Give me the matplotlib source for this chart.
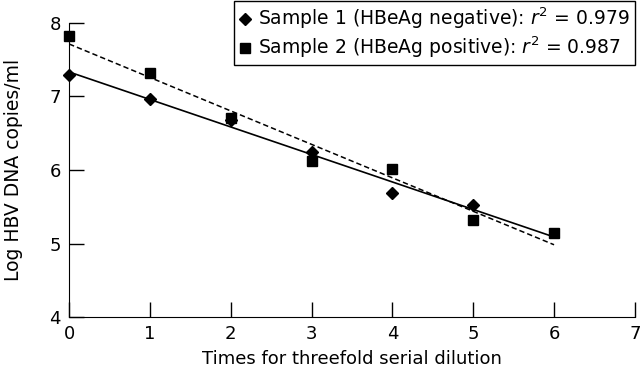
import numpy as np
import matplotlib
matplotlib.use("Agg")
import matplotlib.pyplot as plt

# values
dilution_1 = np.array([0, 1, 2, 3, 4, 5])
log_dna_1 = np.array([7.29, 6.96, 6.68, 6.25, 5.69, 5.52])
dilution_2 = np.array([0, 1, 2, 3, 4, 5, 6])
log_dna_2 = np.array([7.82, 7.32, 6.71, 6.12, 6.01, 5.32, 5.14])
label_1 = "Sample 1 (HBeAg negative): $r^2$ = 0.979"
label_2 = "Sample 2 (HBeAg positive): $r^2$ = 0.987"
xticks = [0, 1, 2, 3, 4, 5, 6, 7]
yticks = [4, 5, 6, 7, 8]

plt.rcParams["font.family"] = "DejaVu Sans"
plt.rcParams["font.size"] = 13

fig = plt.figure(figsize=(6.4, 3.7), dpi=100)
ax = fig.add_axes([0.108, 0.143, 0.884, 0.795])

# fitted lines over x = 0..6
xfit = np.array([0, 6])
p1 = np.polyfit(dilution_1, log_dna_1, 1)
p2 = np.polyfit(dilution_2, log_dna_2, 1)
ax.plot(xfit, np.polyval(p1, xfit), "k-", lw=1.2)
ax.plot(xfit, np.polyval(p2, xfit), "k--", lw=1.1, dashes=(3.5, 2))

ax.plot(dilution_1, log_dna_1, "kD", ms=6, ls="none", label=label_1, clip_on=False)
ax.plot(dilution_2, log_dna_2, "ks", ms=6.5, ls="none", label=label_2, clip_on=False)

ax.set_xlim(0, 7)
ax.set_ylim(4, 8)
ax.set_xticks(xticks)
ax.set_yticks(yticks)
ax.spines["top"].set_visible(False)
ax.spines["right"].set_visible(False)
ax.tick_params(direction="in", length=11, width=1, pad=6, labelsize=13)
ax.set_xlabel("Times for threefold serial dilution", fontsize=13, labelpad=5)
ax.set_ylabel("Log HBV DNA copies/ml", fontsize=13.5, labelpad=19)

leg = fig.legend(loc="upper right", bbox_to_anchor=(0.993, 1.0),
                 handlelength=0.7, handletextpad=0.35, borderpad=0.25,
                 labelspacing=0.2, fancybox=False, edgecolor="black",
                 framealpha=1, fontsize=13.5, borderaxespad=0.05)
leg.get_frame().set_linewidth(1.0)

fig.savefig("out.png", dpi=100)
